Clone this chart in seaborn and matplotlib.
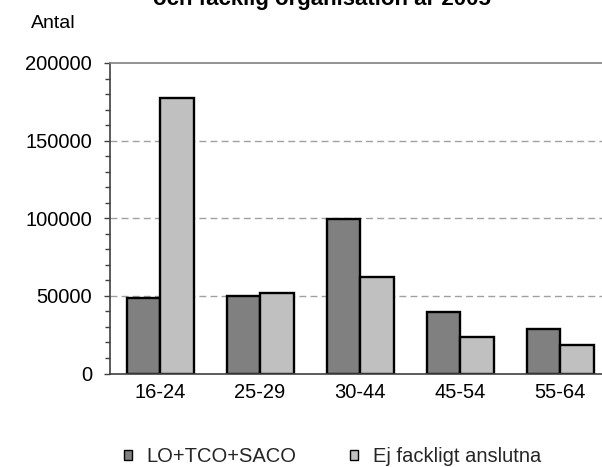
import matplotlib
matplotlib.use("Agg")
import matplotlib.pyplot as plt
import seaborn as sns
import pandas as pd
from matplotlib.ticker import MultipleLocator

categories = ["16-24", "25-29", "30-44", "45-54", "55-64"]
series_names = ["LO+TCO+SACO", "Ej fackligt anslutna"]
lo_tco_saco = [48500, 50000, 99500, 39500, 28500]
ej_anslutna = [177500, 52000, 62000, 23500, 18500]
y_ticks = [0, 50000, 100000, 150000, 200000]

df = pd.DataFrame({
    "Ålder": categories * 2,
    "Grupp": [series_names[0]] * len(categories) + [series_names[1]] * len(categories),
    "Antal": lo_tco_saco + ej_anslutna,
})

sns.set_theme(style="white")
plt.rcParams["font.family"] = ["Liberation Sans", "DejaVu Sans"]

fig = plt.figure(figsize=(6.02, 4.67), dpi=100)
ax = fig.add_axes([110 / 602, 1 - 373.5 / 467, 500 / 602, 310.5 / 467])

sns.barplot(data=df, x="Ålder", y="Antal", hue="Grupp", order=categories,
            hue_order=series_names, palette=["#808080", "#C0C0C0"],
            width=0.67, gap=0, edgecolor="black", linewidth=1.7,
            saturation=1, ax=ax, legend=True)

ax.set_ylim(0, 200000)
ax.set_xlim(-0.5, 4.5)
ax.set_yticks(y_ticks)
ax.set_yticklabels([str(v) for v in y_ticks])
ax.yaxis.set_minor_locator(MultipleLocator(10000))
ax.set_axisbelow(True)
for v in y_ticks[1:-1]:
    ax.axhline(v, color="#A0A0A0", linewidth=1, linestyle=(0, (5, 3)), zorder=0)

ax.set_xlabel("")
ax.set_ylabel("")
ax.spines["right"].set_visible(False)
ax.spines["top"].set_color("#808080")
ax.spines["top"].set_linewidth(1.2)
ax.spines["left"].set_color("#404040")
ax.spines["left"].set_linewidth(1.2)
ax.spines["bottom"].set_color("#404040")
ax.spines["bottom"].set_linewidth(1.2)

ax.tick_params(axis="y", which="major", left=True, length=4, width=1,
               color="#404040", labelsize=14.5, pad=9, labelcolor="black")
ax.tick_params(axis="y", which="minor", left=True, length=3.5, width=1,
               color="#404040")
ax.tick_params(axis="x", which="both", bottom=False, length=0,
               labelsize=14.5, pad=7, labelcolor="black")

ax.get_legend().remove()
handles, labels = ax.get_legend_handles_labels()
fig.legend(handles, labels, loc="center", ncol=2,
           bbox_to_anchor=(0.552, 1 - 457 / 467), frameon=False,
           fontsize=14.5, handlelength=0.4, handleheight=0.4,
           handletextpad=0.7, columnspacing=2.7, borderaxespad=0)
for h in fig.legends[0].legend_handles:
    h.set_linewidth(1)
    h.set_edgecolor("black")

fig.text(31 / 602, 1 - 28 / 467, "Antal", fontsize=14, ha="left",
         va="baseline", color="black")
fig.text(322 / 602, 1 - 5 / 467, "och facklig organisation år 2005",
         fontsize=16, fontweight="bold", ha="center", va="baseline",
         color="black")

fig.savefig("out.png", dpi=100)
